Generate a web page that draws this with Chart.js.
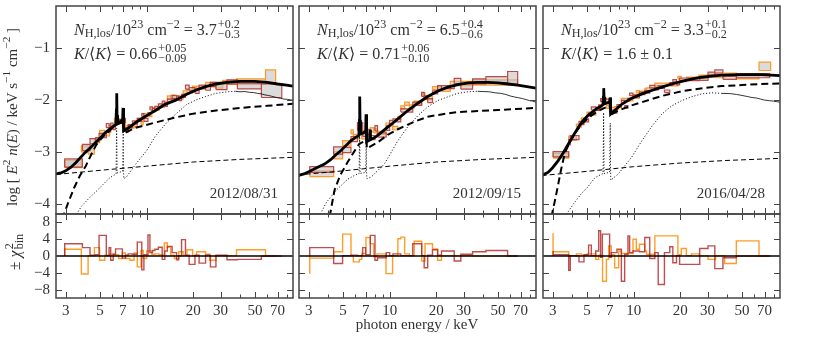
<!DOCTYPE html>
<html>
<head>
<meta charset="utf-8">
<script src="https://cdn.jsdelivr.net/npm/chart.js@4.4.1/dist/chart.umd.min.js"></script>
<style>
  body { margin: 0; background: #fff; }
  #wrap { position: relative; width: 830px; height: 339px; }
  #wrap canvas { position: absolute; left: 0; top: 0; }
</style>
</head>
<body>
<div id="wrap"></div>
<script>
// ---- axis values ----
const xMin = 2.6, xMax = 88;
const xTicks = [3, 4, 5, 6, 7, 8, 9, 10, 20, 30, 40, 50, 60, 70, 80];
const xLabelled = [3, 5, 7, 10, 20, 30, 50, 70];
const topRange = [-4.2, -0.2];
const resRange = [-10, 10];
const topTicks = [-1, -2, -3, -4];
const resTicks = [-8, -4, 0, 4, 8];

// ---- panel texts ----
const dates = ['2012/08/31', '2012/09/15', '2016/04/28'];
const nhValue = ['3.7', '6.5', '3.3'];
const nhPlus = ['+0.2', '+0.4', '+0.1'];
const nhMinus = ['\u22120.3', '\u22120.6', '\u22120.2'];
const kValue = ['0.66', '0.71', '1.6 \u00B1 0.1'];
const kPlus = ['+0.05', '+0.06', null];
const kMinus = ['\u22120.09', '\u22120.10', null];

// ---- model curves [keV, log flux] ----
const total1 = [[2.6,-3.43],[2.8,-3.41],[3.0,-3.37],[3.25,-3.30],[3.5,-3.21],[3.75,-3.11],[4.0,-3.02],[4.35,-2.92],[4.7,-2.82],[5.05,-2.73],[5.4,-2.64],[5.7,-2.58],[6.0,-2.53],[6.2,-2.50],[6.33,-2.47],[6.38,-2.2],[6.41,-1.88],[6.44,-2.3],[6.5,-2.44],[6.8,-2.42],[7.0,-2.38],[7.04,-2.16],[7.08,-2.35],[7.12,-2.60],[7.5,-2.56],[8.0,-2.50],[8.5,-2.44],[9.5,-2.35],[10.5,-2.27],[11.4,-2.21],[13,-2.10],[15.4,-2.01],[18,-1.90],[20.7,-1.82],[24,-1.75],[28,-1.70],[33,-1.67],[40,-1.65],[50,-1.65],[60,-1.67],[70,-1.70],[80,-1.72],[88,-1.74]];
const hard1 = [[2.85,-4.3],[3.1,-4.0],[3.4,-3.7],[3.7,-3.47],[4.04,-3.28],[4.4,-3.05],[4.73,-2.87],[5.2,-2.72],[5.77,-2.60],[6.2,-2.50],[6.9,-2.44],[7.11,-2.43],[7.12,-2.65],[8.5,-2.54],[11.4,-2.44],[15,-2.35],[20,-2.27],[28,-2.21],[40,-2.16],[60,-2.12],[88,-2.08]];
const scat1 = [[2.6,-3.44],[5,-3.36],[10,-3.28],[20,-3.20],[40,-3.15],[88,-3.11]];
const refl1 = [[3.45,-4.25],[3.8,-4.05],[4.3,-3.88],[4.9,-3.72],[5.44,-3.58],[5.8,-3.50],[6.35,-3.43],[6.4,-2.55],[6.45,-3.41],[7.0,-3.38],[7.06,-2.62],[7.1,-3.38],[7.12,-3.52],[7.4,-3.49],[8.5,-3.24],[10,-2.98],[11.4,-2.70],[13.4,-2.45],[15.4,-2.28],[18,-2.10],[20.7,-2.01],[24,-1.94],[28,-1.88],[33,-1.85],[37.5,-1.84]];
const reflHi1 = [[37.5,-1.84],[40,-1.85],[43,-1.845],[46,-1.86],[49,-1.865],[52,-1.88],[55,-1.89],[58,-1.91],[61,-1.92],[64,-1.935],[67,-1.95],[70,-1.965],[73,-1.975],[77,-1.99],[81,-1.995],[85,-2.005],[88,-2.01]];

const total2 = [[2.55,-3.46],[2.8,-3.43],[3.05,-3.38],[3.43,-3.30],[3.8,-3.24],[4.18,-3.15],[4.5,-3.06],[4.85,-2.98],[5.2,-2.89],[5.63,-2.79],[6.0,-2.73],[6.33,-2.69],[6.38,-2.4],[6.41,-1.94],[6.44,-2.4],[6.5,-2.66],[6.8,-2.64],[7.0,-2.60],[7.04,-2.28],[7.08,-2.55],[7.12,-2.81],[7.42,-2.78],[7.47,-2.58],[7.52,-2.77],[8.0,-2.73],[8.37,-2.69],[9.0,-2.61],[9.7,-2.53],[10.5,-2.45],[11.3,-2.37],[13.1,-2.21],[15.2,-2.07],[17.6,-1.94],[20.4,-1.84],[23.7,-1.76],[27.5,-1.71],[32,-1.68],[37,-1.67],[43,-1.67],[50,-1.68],[58,-1.70],[67,-1.72],[77,-1.75],[88,-1.78]];
const hard2 = [[4.1,-4.25],[4.4,-3.75],[4.8,-3.45],[5.36,-3.20],[5.9,-3.00],[6.37,-2.85],[7.11,-2.78],[7.12,-2.94],[8.4,-2.82],[9.7,-2.68],[11.3,-2.57],[13.1,-2.48],[15.2,-2.40],[17.6,-2.33],[22,-2.28],[27.5,-2.24],[37,-2.22],[50,-2.20],[65,-2.18],[88,-2.16]];
const scat2 = [[2.55,-3.45],[5,-3.37],[10,-3.28],[20,-3.20],[40,-3.15],[88,-3.11]];
const refl2 = [[3.5,-4.25],[3.9,-3.98],[4.5,-3.75],[5.36,-3.53],[6.0,-3.45],[6.35,-3.42],[6.4,-2.62],[6.45,-3.42],[7.0,-3.40],[7.06,-2.70],[7.1,-3.40],[7.12,-3.52],[7.6,-3.49],[9.24,-3.24],[11.3,-2.79],[13.1,-2.52],[15.2,-2.31],[17.6,-2.14],[20.4,-2.02],[24,-1.94],[27.5,-1.88],[32,-1.85],[37,-1.84]];
const reflHi2 = [[37,-1.84],[40,-1.845],[44,-1.85],[48,-1.87],[52,-1.88],[56,-1.90],[60,-1.93],[64,-1.95],[68,-1.965],[72,-1.98],[76,-2.00],[80,-2.02],[84,-2.03],[88,-2.05]];

const total3 = [[2.55,-3.46],[2.8,-3.40],[3.0,-3.31],[3.25,-3.18],[3.5,-3.03],[3.8,-2.85],[4.1,-2.68],[4.4,-2.53],[4.7,-2.41],[5.05,-2.31],[5.4,-2.24],[5.8,-2.17],[6.2,-2.12],[6.33,-2.10],[6.38,-1.95],[6.41,-1.78],[6.44,-1.95],[6.5,-2.08],[6.8,-2.06],[7.0,-2.04],[7.04,-1.96],[7.08,-2.05],[7.12,-2.28],[7.6,-2.20],[8.37,-2.09],[9.5,-1.99],[11.3,-1.89],[13.2,-1.82],[15.2,-1.76],[17.6,-1.70],[20.4,-1.65],[24,-1.60],[27.5,-1.57],[32,-1.55],[37,-1.53],[43,-1.525],[50,-1.52],[58,-1.52],[67,-1.52],[77,-1.53],[88,-1.54]];
const hard3 = [[2.95,-4.25],[3.1,-3.95],[3.2,-3.75],[3.4,-3.35],[3.6,-3.02],[3.9,-2.80],[4.18,-2.64],[4.7,-2.45],[5.2,-2.33],[5.63,-2.26],[6.0,-2.21],[6.5,-2.16],[7.11,-2.12],[7.12,-2.29],[8.0,-2.21],[9.5,-2.12],[11.3,-2.05],[15.2,-1.93],[20.4,-1.84],[28,-1.78],[37,-1.74],[50,-1.72],[65,-1.70],[88,-1.69]];
const scat3 = [[2.55,-3.46],[5,-3.38],[10,-3.29],[20,-3.22],[40,-3.17],[88,-3.13]];
const refl3 = [[3.6,-4.25],[4.1,-4.0],[4.62,-3.80],[5.0,-3.70],[5.63,-3.50],[6.35,-3.42],[6.4,-2.25],[6.45,-3.42],[7.0,-3.40],[7.06,-2.45],[7.1,-3.40],[7.12,-3.55],[7.96,-3.43],[9.7,-3.11],[11.3,-2.79],[13.2,-2.50],[15.2,-2.28],[17.6,-2.12],[20.4,-2.02],[24,-1.94],[27.5,-1.89],[32,-1.87],[37,-1.88]];
const reflHi3 = [[37,-1.88],[42,-1.885],[46,-1.90],[50,-1.92],[54,-1.94],[58,-1.96],[62,-1.97],[66,-1.99],[70,-2.01],[75,-2.02],[80,-2.03],[84,-2.04],[88,-2.05]];

// ---- data bins [E low, E high, chi residual, log flux, half error] ----
const redBins1 = [[2.96,3.85,2.1,-3.22,0.08],[3.85,4.31,2.9,-2.92,0.06],[4.31,4.69,2.0,-2.80,0.05],[4.69,4.93,0.2,-2.77,0.04],[4.93,5.49,0.3,-2.69,0.04],[5.49,5.72,4.9,-2.50,0.04],[5.72,5.86,0.1,-2.58,0.04],[5.86,6.08,2.0,-2.49,0.04],[6.08,6.3,-1.0,-2.54,0.04],[6.3,6.97,0.4,-2.42,0.04],[6.97,7.3,1.7,-2.40,0.04],[7.3,7.6,-0.5,-2.58,0.04],[7.6,8.1,0.2,-2.51,0.03],[8.1,8.7,0.5,-2.44,0.03],[8.7,9.3,0.4,-2.39,0.03],[9.3,9.6,3.3,-2.30,0.03],[9.6,10.2,-3.3,-2.39,0.03],[10.2,10.5,0.3,-2.28,0.03],[10.5,10.9,5.0,-2.17,0.03],[10.9,11.3,0.8,-2.20,0.03],[11.3,11.9,1.3,-2.16,0.03],[11.9,12.6,1.6,-2.11,0.03],[12.6,13.1,2.1,-2.06,0.03],[13.1,13.6,-0.8,-2.10,0.03],[13.6,14.6,1.2,-2.02,0.03],[14.6,15.6,2.3,-1.95,0.03],[15.6,16.1,0.8,-1.96,0.03],[16.1,16.8,-0.9,-1.99,0.03],[16.8,17.8,0.1,-1.93,0.03],[17.8,18.8,3.9,-1.76,0.04],[18.8,20.5,0.2,-1.80,0.03],[20.5,21.8,-2.0,-1.84,0.04],[21.8,24.0,0.2,-1.75,0.03],[24.0,25.8,-1.7,-1.78,0.04],[25.8,28.0,0.2,-1.71,0.04],[28.0,33.0,-2.6,-1.74,0.07],[33.0,38.5,0.2,-1.66,0.04],[38.5,55,-0.9,-1.745,0.05],[55,74.5,-0.8,-1.83,0.13]];
const orangeBins1 = [[2.96,3.79,1.9,-3.24,0.07],[3.79,4.19,1.6,-2.95,0.06],[4.19,4.6,-4.3,-3.00,0.05],[4.6,4.97,0.1,-2.79,0.04],[4.97,5.37,2.0,-2.63,0.04],[5.37,5.77,-1.0,-2.66,0.04],[5.77,6.2,0.2,-2.53,0.04],[6.2,6.6,0.4,-2.40,0.04],[6.6,6.97,0.3,-2.42,0.04],[6.97,7.3,-0.6,-2.45,0.04],[7.3,7.8,0.7,-2.53,0.03],[7.8,8.3,-0.6,-2.52,0.03],[8.3,8.7,-1.0,-2.49,0.03],[8.7,9.2,0.7,-2.39,0.03],[9.2,9.5,-2.6,-2.45,0.03],[9.5,10.0,1.3,-2.30,0.03],[10.0,10.8,-0.6,-2.30,0.03],[10.8,11.3,1.2,-2.19,0.03],[11.3,12.0,0.4,-2.18,0.03],[12.0,13.0,0.5,-2.12,0.03],[13.0,13.6,0.3,-2.08,0.03],[13.6,14.3,3.1,-1.96,0.03],[14.3,15.1,2.1,-1.95,0.03],[15.1,16.1,0.2,-1.98,0.03],[16.1,17.2,-0.6,-1.96,0.03],[17.2,18.2,1.0,-1.86,0.03],[18.2,19.8,0.2,-1.84,0.03],[19.8,21.0,1.5,-1.77,0.03],[21.0,24.0,0.1,-1.77,0.03],[24.0,25.5,1.0,-1.71,0.04],[25.5,28.0,0.4,-1.71,0.04],[28.0,31.0,-1.0,-1.73,0.05],[31.0,38.0,0.1,-1.67,0.04],[38.0,58.5,0.1,-1.65,0.05],[58.5,68,1.5,-1.56,0.13]];

const redBins2 = [[3.05,4.35,0.1,-3.345,0.055],[4.35,4.97,2.0,-2.98,0.07],[4.97,5.63,-1.8,-2.97,0.05],[5.63,6.2,0.1,-2.76,0.05],[6.2,6.7,0.2,-2.52,0.08],[6.7,7.0,0.1,-2.66,0.05],[7.0,7.5,2.0,-2.62,0.05],[7.5,8.04,0.3,-2.73,0.04],[8.04,8.35,4.9,-2.55,0.05],[8.35,9.5,-1.0,-2.68,0.04],[9.5,10.0,-0.4,-2.55,0.04],[10.0,10.5,0.8,-2.44,0.04],[10.5,11.8,0.1,-2.40,0.03],[11.8,14.1,0.5,-2.21,0.03],[14.1,16.1,0.1,-2.08,0.03],[16.1,16.7,2.9,-1.90,0.04],[16.7,17.6,0.1,-1.96,0.03],[17.6,18.9,-2.8,-2.02,0.04],[18.9,20.4,0.2,-1.86,0.03],[20.4,21.6,1.5,-1.77,0.04],[21.6,26.1,0.2,-1.76,0.03],[26.1,28.8,1.2,-1.64,0.05],[28.8,34.3,-1.2,-1.75,0.05],[34.3,41.8,0.4,-1.65,0.05],[41.8,57.7,1.0,-1.62,0.06],[57.7,67,1.3,-1.58,0.12]];
const orangeBins2 = [[3.05,4.35,-4.2,-3.425,0.055],[4.35,4.97,-0.5,-3.07,0.07],[4.97,5.63,1.0,-2.84,0.05],[5.63,5.83,5.2,-2.62,0.04],[5.83,6.37,0.1,-2.71,0.04],[6.37,6.6,-1.4,-2.55,0.06],[6.6,7.03,-0.8,-2.72,0.04],[7.03,7.5,0.6,-2.72,0.04],[7.5,7.9,4.4,-2.58,0.04],[7.9,8.3,2.9,-2.60,0.04],[8.3,9.47,-0.2,-2.64,0.03],[9.47,10.45,0.5,-2.48,0.03],[10.45,11.3,-4.2,-2.55,0.035],[11.3,11.8,0.1,-2.35,0.03],[11.8,12.5,4.1,-2.15,0.03],[12.5,13.4,4.5,-2.08,0.03],[13.4,14.4,0.5,-2.13,0.03],[14.4,16.1,0.1,-2.06,0.03],[16.1,16.9,3.5,-1.90,0.03],[16.9,18.9,-1.2,-1.97,0.03],[18.9,20.4,2.9,-1.78,0.03],[20.4,21.6,1.7,-1.78,0.03],[21.6,24.6,-1.0,-1.81,0.03],[24.6,34.3,0.1,-1.69,0.04],[34.3,67,0.1,-1.67,0.05]];

const redBins3 = [[3.02,3.81,1.2,-3.05,0.05],[3.81,3.90,0.3,-2.82,0.05],[3.90,4.44,-3.4,-2.73,0.04],[4.44,4.78,0.1,-2.45,0.03],[4.78,5.12,-1.4,-2.40,0.03],[5.12,5.33,0.3,-2.29,0.03],[5.33,5.69,2.6,-2.17,0.03],[5.69,5.95,0.1,-2.18,0.03],[5.95,6.12,1.2,-2.13,0.03],[6.12,6.28,6.0,-2.01,0.03],[6.28,7.0,-0.3,-2.02,0.03],[7.0,7.18,5.2,-2.00,0.03],[7.18,7.8,-0.3,-2.23,0.03],[7.8,8.33,0.8,-2.12,0.025],[8.33,8.75,1.6,-2.04,0.025],[8.75,9.19,-6.0,-2.14,0.025],[9.19,9.42,0.4,-2.00,0.025],[9.42,9.9,4.8,-1.90,0.025],[9.9,10.9,0.8,-1.94,0.025],[10.9,11.8,1.2,-1.88,0.025],[11.8,12.7,1.0,-1.85,0.025],[12.7,13.7,4.4,-1.75,0.025],[13.7,14.4,-0.6,-1.79,0.025],[14.4,15.8,0.8,-1.76,0.025],[15.8,17.1,-6.8,-1.84,0.025],[17.1,17.9,0.8,-1.70,0.025],[17.9,18.9,2.2,-1.64,0.025],[18.9,19.8,-1.6,-1.69,0.025],[19.8,26.7,0.1,-1.61,0.025],[26.7,30.2,-2.0,-1.60,0.03],[30.2,33.4,1.8,-1.50,0.03],[33.4,37.7,2.4,-1.46,0.03],[37.7,46.0,-3.0,-1.58,0.03],[46.0,75.5,-0.4,-1.54,0.04]];
const orangeBins3 = [[3.02,3.81,5.4,-3.08,0.045],[3.81,4.27,1.0,-2.74,0.04],[4.27,4.60,0.1,-2.50,0.03],[4.60,5.0,0.5,-2.38,0.03],[5.0,5.69,0.2,-2.27,0.03],[5.69,5.95,0.5,-2.18,0.03],[5.95,6.3,-0.8,-2.14,0.03],[6.3,6.67,0.2,-2.00,0.03],[6.67,6.9,-6.0,-2.14,0.03],[6.9,7.18,-0.8,-2.10,0.03],[7.18,7.54,2.4,-2.18,0.03],[7.54,8.0,0.3,-2.16,0.025],[8.0,8.33,-2.8,-2.13,0.025],[8.33,9.9,1.2,-2.00,0.025],[9.9,10.4,0.6,-1.93,0.025],[10.4,10.9,4.0,-1.85,0.025],[10.9,11.8,1.6,-1.86,0.025],[11.8,12.1,2.8,-1.81,0.025],[12.1,13.7,1.2,-1.80,0.025],[13.7,19.3,0.4,-1.71,0.025],[19.3,20.3,4.8,-1.58,0.025],[20.3,21.9,0.3,-1.63,0.025],[21.9,23.6,1.8,-1.59,0.025],[23.6,26.4,0.1,-1.59,0.025],[26.4,30.2,0.5,-1.56,0.03],[30.2,33.8,0.1,-1.54,0.03],[33.8,38.7,-0.8,-1.55,0.03],[38.7,46.0,0.1,-1.52,0.03],[46.0,64.4,-1.8,-1.56,0.04],[64.4,76.6,3.6,-1.36,0.08]];

const panels = [
  { total: total1, hard: hard1, scat: scat1, refl: refl1, reflHi: reflHi1, red: redBins1, orange: orangeBins1 },
  { total: total2, hard: hard2, scat: scat2, refl: refl2, reflHi: reflHi2, red: redBins2, orange: orangeBins2 },
  { total: total3, hard: hard3, scat: scat3, refl: refl3, reflHi: reflHi3, red: redBins3, orange: orangeBins3 },
];

// ---- layout / style ----
const W = 830, H = 339;
const panelLeft = [56, 299, 543];
const panelWidth = 237;
const topEdge = 6, midEdge = 214, botEdge = 298;
const FONT = '"Liberation Serif", "DejaVu Serif", serif';
const TEXT = '#333';
const AXIS = '#444';
const ORANGE = 'rgba(255,140,0,0.85)';
const RED = 'rgba(178,34,34,0.8)';
const BOXFILL = 'rgba(195,195,195,0.6)';

Chart.defaults.font.family = FONT;
Chart.defaults.font.size = 15;
Chart.defaults.color = TEXT;

const wrap = document.getElementById('wrap');

function pts(arr) { return arr.map(([x, y]) => ({ x, y })); }
function boxes(rows) {
  const out = [];
  for (const [lo, hi, , f, h] of rows) {
    out.push({ x: lo, y: f - h }, { x: hi, y: f - h }, { x: hi, y: f + h }, { x: lo, y: f + h }, { x: lo, y: f - h }, { x: hi, y: null });
  }
  return out;
}
function steps(rows) {
  const out = [{ x: rows[0][0], y: 0 }];
  for (const [lo, , r] of rows) out.push({ x: lo, y: r });
  out.push({ x: rows[rows.length - 1][1], y: 0 });
  return out;
}
function minus(v) { return (v < 0 ? '\u2212' : '') + Math.abs(v); }

function fontStr(size, italic) { return (italic ? 'italic ' : '') + size + 'px ' + FONT; }
function rich(ctx, parts, x, y, size, dry) {
  let cx = x;
  const small = size * 0.76;
  for (const [t, k] of parts) {
    if (k === 'ss') {
      ctx.font = fontStr(small, false);
      const w = Math.max(ctx.measureText(t[0]).width, ctx.measureText(t[1]).width);
      if (!dry) { ctx.fillText(t[0], cx + 1, y - size * 0.42); ctx.fillText(t[1], cx + 1, y + size * 0.18); }
      cx += w + 1;
    } else if (k === 'sup' || k === 'sub') {
      ctx.font = fontStr(small, false);
      if (!dry) ctx.fillText(t, cx, y + (k === 'sup' ? -size * 0.45 : size * 0.15));
      cx += ctx.measureText(t).width;
    } else {
      ctx.font = fontStr(size, k === 'i');
      if (!dry) ctx.fillText(t, cx, y);
      cx += ctx.measureText(t).width;
    }
  }
  return cx - x;
}
function richRotated(ctx, parts, x, y, size) {
  ctx.save();
  ctx.translate(x, y);
  ctx.rotate(-Math.PI / 2);
  const w = rich(ctx, parts, 0, 0, size, true);
  rich(ctx, parts, -w / 2, 0, size, false);
  ctx.restore();
}

function framePlugin(yTicks, drawText) {
  return {
    id: 'frame',
    afterDraw(chart) {
      const { ctx, chartArea: a, scales: { x, y } } = chart;
      ctx.save();
      ctx.strokeStyle = AXIS;
      ctx.lineWidth = 1;
      ctx.beginPath();
      for (const v of xTicks) {
        const px = Math.round(x.getPixelForValue(v)) + 0.5;
        const len = xLabelled.includes(v) ? 6 : 3.5;
        ctx.moveTo(px, a.top); ctx.lineTo(px, a.top + len);
        ctx.moveTo(px, a.bottom); ctx.lineTo(px, a.bottom - len);
      }
      for (const v of yTicks) {
        const py = Math.round(y.getPixelForValue(v)) + 0.5;
        ctx.moveTo(a.left, py); ctx.lineTo(a.left + 6, py);
        ctx.moveTo(a.right, py); ctx.lineTo(a.right - 6, py);
      }
      ctx.stroke();
      ctx.lineWidth = 1.5;
      ctx.strokeRect(a.left, a.top, a.right - a.left, a.bottom - a.top);
      ctx.fillStyle = TEXT;
      ctx.textBaseline = 'alphabetic';
      ctx.textAlign = 'left';
      if (drawText) drawText(ctx, a);
      ctx.restore();
    }
  };
}

function xScale(show) {
  return {
    type: 'logarithmic', min: xMin, max: xMax, display: show,
    grid: { display: false, drawTicks: false }, border: { display: false },
    afterBuildTicks: s => { s.ticks = xTicks.map(v => ({ value: v })); },
    afterFit: s => { if (show) { s.height = H - botEdge; s.paddingLeft = 0; s.paddingRight = 0; } },
    ticks: { autoSkip: false, maxRotation: 0, padding: 4, color: TEXT,
      callback: v => xLabelled.includes(v) ? String(v) : '' }
  };
}
function yScale(show, range, ticks) {
  return {
    type: 'linear', min: range[0], max: range[1], display: show,
    grid: { display: false, drawTicks: false }, border: { display: false },
    afterBuildTicks: s => { s.ticks = ticks.map(v => ({ value: v })); },
    afterFit: s => { if (show) { s.width = panelLeft[0]; s.paddingTop = 0; s.paddingBottom = 0; } },
    ticks: { padding: 6, color: TEXT, callback: v => minus(v) }
  };
}

function makeChart(datasets, scales, padding, plugin) {
  const c = document.createElement('canvas');
  c.width = W; c.height = H;
  c.style.width = W + 'px'; c.style.height = H + 'px';
  wrap.appendChild(c);
  return new Chart(c, {
    type: 'line',
    data: { datasets },
    options: {
      responsive: false, animation: false, devicePixelRatio: 1, events: [],
      layout: { padding },
      plugins: { legend: { display: false }, tooltip: { enabled: false } },
      elements: { point: { radius: 0 }, line: { tension: 0 } },
      scales
    },
    plugins: [plugin]
  });
}

panels.forEach((p, i) => {
  const L = panelLeft[i];
  const first = i === 0;
  const right = W - L - panelWidth;

  // spectrum panel
  const topSets = [
    { data: pts(p.total), borderColor: '#000', borderWidth: 2.8, order: 0 },
    { data: pts(p.hard), borderColor: '#000', borderWidth: 2, borderDash: [7, 4], order: 1 },
    { data: pts(p.scat), borderColor: '#000', borderWidth: 1, borderDash: [5, 3], order: 2 },
    { data: pts(p.refl), borderColor: '#000', borderWidth: 1, borderDash: [1, 2], order: 3 },
    { data: pts(p.reflHi), borderColor: '#000', borderWidth: 0.8, order: 3 },
    { data: boxes(p.red), borderColor: RED, borderWidth: 1.2, backgroundColor: BOXFILL, fill: 'shape', spanGaps: false, order: 4 },
    { data: boxes(p.orange), borderColor: ORANGE, borderWidth: 1.2, backgroundColor: BOXFILL, fill: 'shape', spanGaps: false, order: 5 },
  ];
  makeChart(topSets,
    { x: xScale(false), y: yScale(first, topRange, topTicks) },
    { left: first ? 0 : L, right, top: topEdge, bottom: H - midEdge },
    framePlugin(topTicks, (ctx, a) => {
      const x0 = a.left + 18;
      rich(ctx, [['N', 'i'], ['H,los', 'sub'], ['/10', 'r'], ['23', 'sup'], [' cm', 'r'], ['\u22122', 'sup'], [' = ' + nhValue[i], 'r'], [[nhPlus[i], nhMinus[i]], 'ss']], x0, 35, 16);
      const kParts = [['K', 'i'], ['/\u27E8', 'r'], ['K', 'i'], ['\u27E9 = ' + kValue[i], 'r']];
      if (kPlus[i]) kParts.push([[kPlus[i], kMinus[i]], 'ss']);
      rich(ctx, kParts, x0, 59, 16);
      ctx.font = fontStr(15, false);
      ctx.textAlign = 'right';
      ctx.fillText(dates[i], a.right - 15, 198);
      ctx.textAlign = 'left';
      if (first) {
        richRotated(ctx, [['log ', 'r'], ['[ ', 'r'], ['E', 'i'], ['2', 'sup'], [' n', 'i'], ['(', 'r'], ['E', 'i'], [') / keV s', 'r'], ['\u22121', 'sup'], [' cm', 'r'], ['\u22122', 'sup'], [' ]', 'r']], 17, 117, 15);
      }
    }));

  // residual panel
  const resSets = [
    { data: [{ x: xMin, y: 0 }, { x: xMax, y: 0 }], borderColor: '#000', borderWidth: 1.5, order: 0 },
    { data: steps(p.red), borderColor: RED, borderWidth: 1.4, stepped: 'after', order: 1 },
    { data: steps(p.orange), borderColor: ORANGE, borderWidth: 1.4, stepped: 'after', order: 2 },
  ];
  makeChart(resSets,
    { x: xScale(true), y: yScale(first, resRange, resTicks) },
    { left: first ? 0 : L, right, top: midEdge, bottom: 0 },
    framePlugin(resTicks, (ctx, a) => {
      if (first) {
        richRotated(ctx, [['\u00B1 ', 'r'], ['\u03C7', 'i'], [['2', 'bin'], 'ss']], 20, 252, 16);
      }
      if (i === 1) {
        ctx.font = fontStr(15, false);
        ctx.textAlign = 'center';
        ctx.fillText('photon energy / keV', 417, 329);
      }
    }));
});
</script>
</body>
</html>
